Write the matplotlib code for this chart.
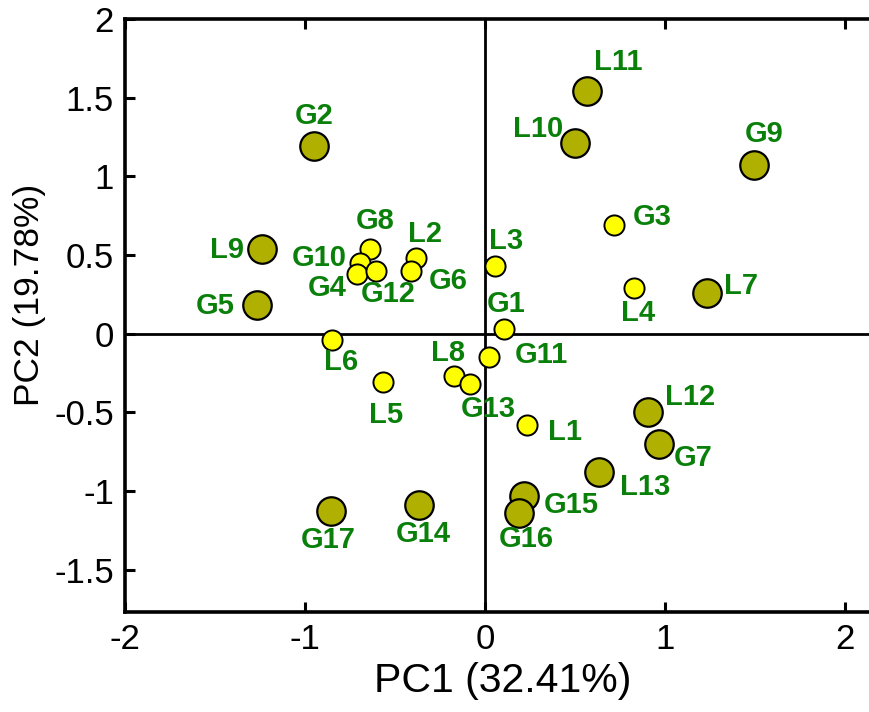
import matplotlib
matplotlib.use("Agg")
import matplotlib.pyplot as plt

plt.rcParams['font.family'] = ['Liberation Sans', 'DejaVu Sans']

# big olive points
big_names = ["G2", "L11", "L10", "G9", "L9", "G5", "L7", "L12", "G7", "L13",
             "G15", "G16", "G14", "G17"]
big_pc1 = [-0.95, 0.567, 0.50, 1.494, -1.239, -1.267, 1.233, 0.906, 0.967, 0.633,
           0.217, 0.189, -0.367, -0.856]
big_pc2 = [1.19, 1.54, 1.21, 1.07, 0.54, 0.18, 0.26, -0.50, -0.70, -0.88,
           -1.035, -1.14, -1.09, -1.13]

# small yellow points
small_names = ["G3", "G8", "L2", "G10", "G4", "G12", "G6", "L3", "G1", "L6",
               "L5", "L8", "G13", "G11", "L1", "L4"]
small_pc1 = [0.717, -0.64, -0.383, -0.694, -0.713, -0.605, -0.41, 0.056, 0.106, -0.85,
             -0.567, -0.17, -0.083, 0.024, 0.233, 0.828]
small_pc2 = [0.69, 0.54, 0.48, 0.45, 0.38, 0.40, 0.40, 0.43, 0.03, -0.04,
             -0.31, -0.27, -0.32, -0.15, -0.58, 0.29]

# label offsets in pixels (dx right, dy down)
offsets = {
    "G2": (0, -30), "L11": (31, -29), "L10": (-37, -14), "G9": (10, -31),
    "L9": (-35, 1), "G5": (-42, 1), "L7": (34, -7), "L12": (42, -15),
    "G7": (34, 14), "L13": (46, 15), "G15": (47, 9), "G16": (7, 26),
    "G14": (4, 29), "G17": (-3, 29),
    "G3": (38, -8), "G8": (5, -28), "L2": (9, -24), "G10": (-41, -5),
    "G4": (-29, 14), "G12": (12, 23), "G6": (37, 10), "L3": (11, -25),
    "G1": (2, -25), "L6": (9, 22), "L5": (3, 33), "L8": (-6, -23),
    "G13": (18, 25), "G11": (52, -2), "L1": (38, 7), "L4": (4, 25),
}

fig = plt.figure(figsize=(8.69, 7.12), dpi=100)
ax = fig.add_axes([125 / 869, 100 / 712, 756 / 869, 593 / 712])

ax.axhline(0, color="black", lw=2, zorder=1)
ax.axvline(0, color="black", lw=2, zorder=1)

ax.plot(big_pc1, big_pc2, "o", ms=20.5, mfc="#b0b000", mec="black", mew=1.6,
        ls="none", zorder=3)
ax.plot(small_pc1, small_pc2, "o", ms=14.5, mfc="#ffff00", mec="black", mew=1.4,
        ls="none", zorder=3)

px2pt = 72 / 100
for names, xs, ys in [(big_names, big_pc1, big_pc2), (small_names, small_pc1, small_pc2)]:
    for n, x, y in zip(names, xs, ys):
        dx, dy = offsets[n]
        ax.annotate(n, (x, y), xytext=(dx * px2pt, -dy * px2pt), textcoords="offset points",
                    ha="center", va="center", color="#0a800a", fontsize=21,
                    fontweight="bold", zorder=4)

ax.set_xlim(-2, 2.2)
ax.set_ylim(-1.77, 2)
ax.set_xticks([-2, -1, 0, 1, 2])
ax.set_xticklabels(["-2", "-1", "0", "1", "2"])
ax.set_yticks([-1.5, -1, -0.5, 0, 0.5, 1, 1.5, 2])
ax.set_yticklabels(["-1.5", "-1", "-0.5", "0", "0.5", "1", "1.5", "2"])
ax.tick_params(direction="in", top=True, right=False, length=7, width=2.2,
               labelsize=25, pad=8)
for s in ax.spines.values():
    s.set_linewidth(2.6)

ax.set_xlabel("PC1 (32.41%)", fontsize=29.5, labelpad=4)
ax.set_ylabel("PC2 (19.78%)", fontsize=25.5, labelpad=6)
ax.yaxis.set_label_coords(-0.104, 0.535)

fig.savefig("out.png", dpi=100)
